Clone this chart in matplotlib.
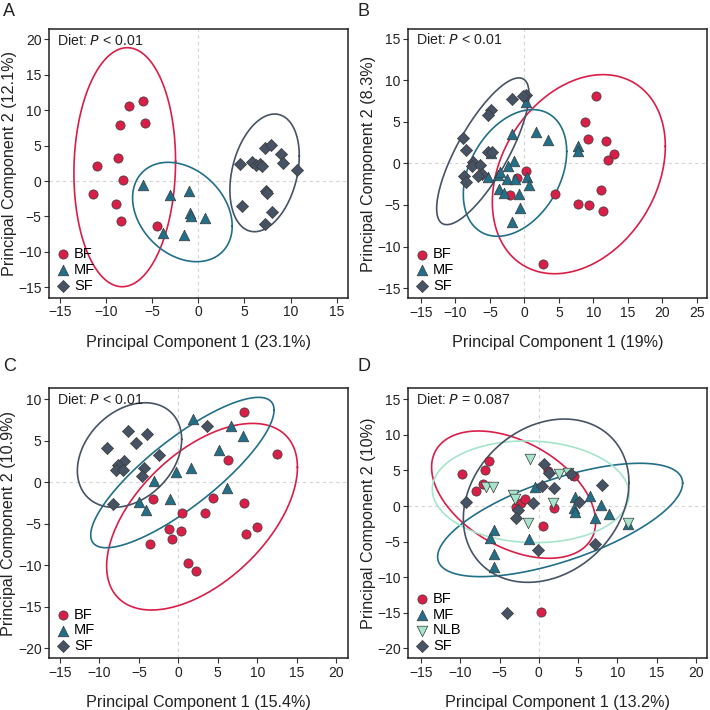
import numpy as np
import matplotlib
matplotlib.use("Agg")
import matplotlib.pyplot as plt

plt.rcParams['font.family'] = ['Liberation Sans', 'DejaVu Sans']

# ---------------- data ----------------
groups_abc = ["BF", "MF", "SF"]
groups_d = ["BF", "MF", "NLB", "SF"]

# Panel A
A_BF_x = [-6.04, -7.52, -5.75, -8.46, -8.71, -10.99, -8.17, -11.46, -8.93, -8.35, -4.45]
A_BF_y = [11.34, 10.58, 8.14, 7.86, 3.29, 2.16, 0.09, -1.83, -3.25, -5.64, -6.30]
A_MF_x = [-5.96, -3.07, -1.01, -0.90, -0.83, 0.76, -3.79, -1.59]
A_MF_y = [-0.56, -1.98, -1.36, -4.56, -4.89, -5.17, -7.29, -7.67]
A_SF_x = [4.52, 5.85, 6.25, 6.72, 6.87, 7.26, 7.84, 8.93, 9.14, 10.73, 4.77, 7.30, 7.41, 7.95, 7.26]
A_SF_y = [2.35, 2.73, 2.21, 2.45, 2.07, 4.70, 5.08, 3.81, 2.59, 1.60, -3.53, -1.36, -1.74, -4.33, -6.11]
# ellipse: centre x, centre y, half x-extent, half y-extent, correlation
A_ell = {"BF": (-7.97, 1.95, 5.51, 16.86, 0.05),
         "MF": (-1.72, -4.37, 5.40, 7.01, -0.285),
         "SF": (7.19, 1.15, 3.76, 8.30, 0.29)}

# Panel B
B_BF_x = [10.34, 8.84, 9.18, 11.88, 12.94, 12.08, 0.23, -1.03, -2.04, 4.48, 7.71, 9.31, 11.10, 11.39, 2.68]
B_BF_y = [8.09, 5.00, 2.95, 2.71, 1.10, 0.38, -0.90, -1.75, -3.84, -3.67, -4.84, -5.00, -3.15, -5.68, -12.07]
B_MF_x = [0.28, -1.84, 1.68, 3.37, 7.82, 7.72, -4.85, -1.55, -2.33, -5.34, -3.89, -3.60, -2.53, -1.37,
          0.43, 0.62, -3.65, -3.02, -0.73, -0.64, -1.84]
B_MF_y = [7.37, 3.59, 3.76, 2.87, 2.07, 1.47, 1.27, 0.34, -0.34, -1.59, -1.35, -1.06, -1.83, -1.83,
          -1.63, -2.59, -3.07, -3.55, -3.71, -5.40, -7.09]
B_SF_x = [0.18, -0.15, -1.84, -4.84, -5.23, -8.90, -8.47, -5.23, -4.75, -7.41, -7.55, -6.49, -6.16,
          -6.69, -8.81, -8.47]
B_SF_y = [8.29, 8.17, 7.81, 6.49, 5.84, 3.07, 1.59, 1.43, 1.35, 0.18, -0.26, -0.14, -1.22, -1.55,
          -1.55, -2.23]
B_ell = {"BF": (7.90, -1.29, 12.55, 11.99, 0.28),
         "MF": (-1.36, -1.14, 7.50, 7.63, 0.34),
         "SF": (-6.03, 1.47, 6.70, 8.84, 0.78)}

# Panel C
C_BF_x = [8.33, 12.55, 6.30, -3.25, 4.44, 8.28, 0.51, 3.38, -1.23, 0.30, -0.76, 8.54, 9.93, -3.55, 1.23, 2.20]
C_BF_y = [8.51, 3.45, 2.69, -2.01, -1.93, -2.45, -3.69, -3.65, -5.62, -5.86, -6.87, -6.18, -5.42, -7.47,
          -9.76, -10.64]
C_MF_x = [1.82, 6.72, 8.20, 5.16, 1.56, -0.30, -3.13, 6.17, -1.10, -4.95, -4.14]
C_MF_y = [7.63, 6.79, 5.62, 3.90, 1.77, 1.29, 0.20, -0.72, -2.05, -2.33, -3.33]
C_SF_x = [3.59, -6.42, -3.93, -5.33, -9.04, -2.49, -6.89, -7.65, -7.86, -6.97, -4.35, -4.56, -8.33]
C_SF_y = [6.83, 6.18, 5.78, 4.78, 4.10, 3.25, 2.61, 2.09, 1.45, 1.49, 1.73, 0.80, -2.65]
C_ell = {"BF": (3.00, -4.14, 12.09, 11.24, 0.53),
         "MF": (0.51, 1.18, 11.62, 9.06, 0.83),
         "SF": (-6.19, 3.29, 6.61, 6.30, 0.30)}

# Panel D
D_BF_x = [-6.30, -9.78, -6.86, -7.11, -8.04, -2.91, -2.32, -1.72, 4.48, 1.12, 1.97, 0.57, 0.31]
D_BF_y = [6.32, 4.46, 5.11, 3.05, 2.16, -0.09, 0.43, 1.00, 4.22, 4.96, -0.28, -2.81, -14.84]
D_MF_x = [-0.49, 4.60, 6.51, 4.52, 4.60, 7.87, 8.97, 7.15, 11.39, -5.67, -6.18, -5.67, -5.67, -1.26]
D_MF_y = [2.63, 1.22, 1.46, -0.23, -0.79, 0.14, -1.13, -1.73, -2.57, -3.33, -4.54, -6.71, -8.63, -4.63]
D_NLB_x = [-1.13, -6.69, -5.88, -3.25, -3.04, -1.43, 1.76, 2.56, 3.75, 11.39]
D_NLB_y = [6.64, 2.68, 2.63, 1.50, 0.99, -2.34, 0.43, 4.45, 4.59, -2.34]
D_SF_x = [0.70, 1.33, 4.09, 8.08, 0.36, 1.88, -0.70, 5.11, -9.27, -2.61, -2.95, -0.07, 7.15, -4.10]
D_SF_y = [5.95, 4.64, 4.55, 2.91, 2.86, 2.53, 0.47, 0.61, 0.57, -0.60, -1.68, -6.18, -5.33, -15.08]
D_ell = {"BF": (-3.21, 1.60, 10.44, 8.95, -0.43),
         "MF": (2.71, -1.96, 15.59, 7.97, 0.65),
         "NLB": (-1.04, 2.00, 12.52, 7.15, -0.05),
         "SF": (0.93, 0.75, 10.54, 11.48, 0.22)}

panel_labels = ["A", "B", "C", "D"]
x_labels = ["Principal Component 1 (23.1%)", "Principal Component 1 (19%)",
            "Principal Component 1 (15.4%)", "Principal Component 1 (13.2%)"]
y_labels = ["Principal Component 2 (12.1%)", "Principal Component 2 (8.3%)",
            "Principal Component 2 (10.9%)", "Principal Component 2 (10%)"]
p_texts = [r"Diet: $\it{P}$ < 0.01", r"Diet: $\it{P}$ < 0.01",
           r"Diet: $\it{P}$ < 0.01", r"Diet: $\it{P}$ = 0.087"]
x_ticks = [np.arange(-15, 16, 5), np.arange(-15, 26, 5), np.arange(-15, 21, 5), np.arange(-15, 21, 5)]
y_ticks = [np.arange(-15, 21, 5), np.arange(-15, 16, 5), np.arange(-20, 11, 5), np.arange(-20, 16, 5)]
x_lims = [(-16.15, 16.26), (-16.84, 26.54), (-16.36, 21.47), (-16.61, 21.44)]
y_lims = [(-16.46, 21.4), (-16.2, 16.2), (-21.2, 11.33), (-21.41, 16.55)]

# ---------------- style ----------------
colors = {"BF": "#D91E48", "MF": "#216F89", "NLB": "#A6E5CB", "SF": "#465365"}
markers = {"BF": "o", "MF": "^", "NLB": "v", "SF": "D"}
msizes = {"BF": 44, "MF": 58, "NLB": 58, "SF": 38}

panels = [
    (groups_abc, {"BF": (A_BF_x, A_BF_y), "MF": (A_MF_x, A_MF_y), "SF": (A_SF_x, A_SF_y)}, A_ell),
    (groups_abc, {"BF": (B_BF_x, B_BF_y), "MF": (B_MF_x, B_MF_y), "SF": (B_SF_x, B_SF_y)}, B_ell),
    (groups_abc, {"BF": (C_BF_x, C_BF_y), "MF": (C_MF_x, C_MF_y), "SF": (C_SF_x, C_SF_y)}, C_ell),
    (groups_d, {"BF": (D_BF_x, D_BF_y), "MF": (D_MF_x, D_MF_y), "NLB": (D_NLB_x, D_NLB_y),
                "SF": (D_SF_x, D_SF_y)}, D_ell),
]

positions = [[0.0694, 0.5807, 0.4211, 0.3780],
             [0.5751, 0.5803, 0.4211, 0.3789],
             [0.0694, 0.0728, 0.4204, 0.3803],
             [0.5751, 0.0728, 0.4211, 0.3803]]
label_pos = [(0.004, 0.996), (0.504, 0.996), (0.004, 0.496), (0.504, 0.496)]

fig = plt.figure(figsize=(7.1, 7.1), dpi=100)
t = np.linspace(0, 2 * np.pi, 300)

for i, (groups, data, ells) in enumerate(panels):
    ax = fig.add_axes(positions[i])
    ax.axhline(0, color="#d4d4d4", lw=0.8, ls=(0, (3, 3)), zorder=0)
    ax.axvline(0, color="#d4d4d4", lw=0.8, ls=(0, (3, 3)), zorder=0)
    for g in groups:
        cx, cy, hx, hy, r = ells[g]
        ex = cx + hx * np.cos(t)
        ey = cy + hy * (r * np.cos(t) + np.sqrt(1 - r ** 2) * np.sin(t))
        ax.plot(ex, ey, color=colors[g], lw=1.2, zorder=1)
    for g in groups:
        x, y = data[g]
        ax.scatter(x, y, s=msizes[g], marker=markers[g], facecolor=colors[g],
                   edgecolor="#3a3a3a", linewidth=0.5, zorder=3, label=g)
    ax.set_xlim(*x_lims[i])
    ax.set_ylim(*y_lims[i])
    ax.set_xticks(x_ticks[i])
    ax.set_yticks(y_ticks[i])
    ax.tick_params(direction="out", length=3.5, width=0.8, color="#333333",
                   labelsize=10, labelcolor="#222222", pad=2)
    for sp in ax.spines.values():
        sp.set_color("#222222")
        sp.set_linewidth(1.1)
    ax.set_xlabel(x_labels[i], fontsize=11.6, color="#222222", labelpad=11)
    ax.set_ylabel(y_labels[i], fontsize=11.6, color="#222222", labelpad=1)
    ax.text(0.025, 0.988, p_texts[i], transform=ax.transAxes, ha="left", va="top",
            fontsize=10.2, color="#222222")
    ax.legend(loc="lower left", frameon=False, fontsize=10.5, handletextpad=0.15,
              borderaxespad=0.0, labelspacing=0.12, handlelength=1.2, borderpad=0.35)
    fig.text(label_pos[i][0], label_pos[i][1], panel_labels[i], ha="left", va="top",
             fontsize=13, color="#222222")

fig.savefig("out.png", dpi=100)
